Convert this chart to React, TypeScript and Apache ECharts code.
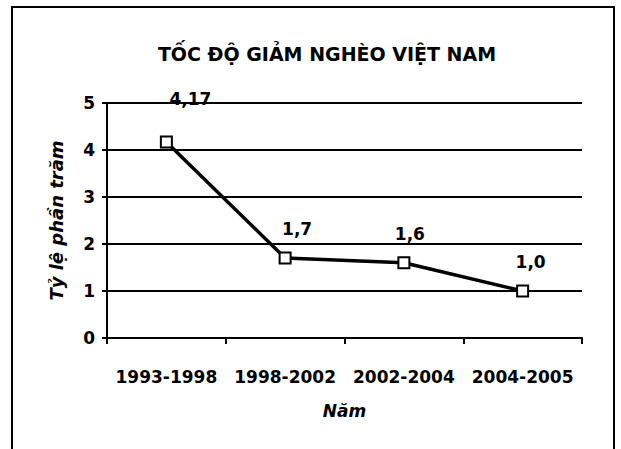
import React, { useEffect, useRef } from "react";
import * as echarts from "echarts";

const titleText = "TỐC ĐỘ GIẢM NGHÈO VIỆT NAM";
const categories = ["1993-1998", "1998-2002", "2002-2004", "2004-2005"];
const values = [4.17, 1.7, 1.6, 1.0];
const valueLabels = ["4,17", "1,7", "1,6", "1,0"];
const yTicks = [0, 1, 2, 3, 4, 5];
const yName = "Tỷ lệ phần trăm";
const xName = "Năm";

const labelOffsets = [
  [24, -18],
  [12, -4],
  [6, -4],
  [8, -4],
];

export default function App() {
  const ref = useRef<HTMLDivElement>(null);
  useEffect(() => {
    if (!ref.current) return;
    const chart = echarts.init(ref.current, null, { renderer: "svg" });
    const font = "DejaVu Sans";
    chart.setOption({
      animation: false,
      backgroundColor: "#ffffff",
      title: {
        text: titleText,
        left: 322,
        textAlign: "center",
        top: 39,
        textStyle: { fontFamily: font, fontSize: 19, fontWeight: "bold", color: "#000" },
      },
      graphic: [
        {
          type: "rect",
          shape: { x: 12, y: 7, width: 602, height: 470 },
          style: { fill: "none", stroke: "#000", lineWidth: 2 },
          silent: true,
        },
      ],
      grid: { left: 107, right: 39, top: 103, bottom: 111, containLabel: false },
      xAxis: {
        type: "category",
        data: categories,
        boundaryGap: true,
        name: xName,
        nameLocation: "middle",
        nameGap: 64,
        nameTextStyle: { fontFamily: font, fontSize: 17, fontWeight: "bold", fontStyle: "italic", color: "#000" },
        axisLine: { lineStyle: { color: "#000", width: 2 } },
        axisTick: { show: true, alignWithLabel: false, length: 6, lineStyle: { color: "#000", width: 2 } },
        axisLabel: {
          interval: 0,
          hideOverlap: false,
          fontFamily: font,
          fontSize: 17,
          fontWeight: "bold",
          color: "#000",
          margin: 30,
        },
      },
      yAxis: {
        type: "value",
        min: yTicks[0],
        max: yTicks[yTicks.length - 1],
        interval: 1,
        name: yName,
        nameLocation: "middle",
        nameGap: 42,
        nameRotate: 90,
        nameTextStyle: { fontFamily: font, fontSize: 18, fontWeight: "bold", fontStyle: "italic", color: "#000" },
        axisLine: { show: true, lineStyle: { color: "#000", width: 2 } },
        axisTick: { show: true, inside: false, length: 5, lineStyle: { color: "#000", width: 2 } },
        axisLabel: { fontFamily: font, fontSize: 17, fontWeight: "bold", color: "#000", margin: 12 },
        splitLine: { show: true, lineStyle: { color: "#000", width: 2 } },
      },
      series: [
        {
          type: "line",
          data: values.map((v, i) => ({
            value: v,
            label: { offset: labelOffsets[i] },
          })),
          symbol: "rect",
          symbolSize: 11,
          itemStyle: { color: "#fff", borderColor: "#000", borderWidth: 2 },
          lineStyle: { color: "#000", width: 3.5 },
          label: {
            show: true,
            position: "top",
            distance: 10,
            fontFamily: font,
            fontSize: 17,
            fontWeight: "bold",
            color: "#000",
            formatter: (p: any) => valueLabels[p.dataIndex],
          },
          z: 5,
        },
      ],
    });
    return () => chart.dispose();
  }, []);
  return (
    <div
      ref={ref}
      style={{ position: "absolute", left: 0, top: 0, width: 621, height: 449 }}
    />
  );
}
